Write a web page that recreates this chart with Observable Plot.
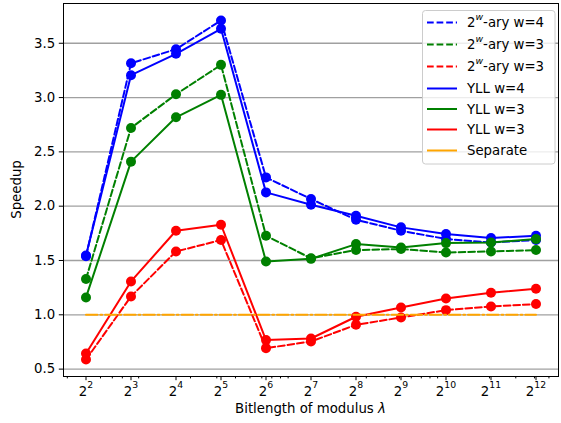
<!DOCTYPE html>
<html><head><meta charset="utf-8">
<script src="https://cdn.jsdelivr.net/npm/d3@7"></script>
<script src="https://cdn.jsdelivr.net/npm/@observablehq/plot@0.6"></script>
<style>
body{margin:0;background:#fff}
svg{font-family:"DejaVu Sans",sans-serif}
</style>
</head><body><div id="chart"></div>
<script>
// exponents k of lambda = 2^k
const exponents = [2, 3, 4, 5, 6, 7, 8, 9, 10, 11, 12];
const aryW4  = [1.54, 3.316, 3.445, 3.71, 2.265, 2.066, 1.875, 1.774, 1.698, 1.666, 1.688];
const aryW3g = [1.329, 2.72, 3.03, 3.301, 1.728, 1.52, 1.596, 1.605, 1.574, 1.583, 1.596];
const aryW3r = [0.588, 1.169, 1.583, 1.688, 0.693, 0.754, 0.908, 0.975, 1.043, 1.077, 1.099];
const yllW4  = [1.545, 3.206, 3.403, 3.633, 2.127, 2.014, 1.912, 1.805, 1.744, 1.707, 1.728];
const yllW3g = [1.16, 2.41, 2.818, 3.025, 1.491, 1.515, 1.651, 1.62, 1.66, 1.666, 1.697];
const yllW3r = [0.643, 1.307, 1.774, 1.829, 0.767, 0.782, 0.982, 1.067, 1.15, 1.203, 1.24];
const separate = [1, 1, 1, 1, 1, 1, 1, 1, 1, 1, 1];
const seriesNames = ["2^w-ary w=4", "2^w-ary w=3", "2^w-ary w=3", "YLL w=4", "YLL w=3", "YLL w=3", "Separate"];
const seriesValues = [aryW4, aryW3g, aryW3r, yllW4, yllW3g, yllW3r, separate];
const yTicks = [0.5, 1.0, 1.5, 2.0, 2.5, 3.0, 3.5];
const xMinorTicks = [3, 5, 6, 7, 9, 20, 30, 40, 50, 60, 70, 80, 90, 200, 300, 400, 500, 600, 700, 800, 900, 2000, 3000, 4000, 5000];

// styles
const FS = 13.3;
const colors = ["blue", "green", "red", "blue", "green", "red", "orange"];
const dashes = ["6.7,2.9", "6.7,2.9", "6.7,2.9", null, null, null, "11.5,2.9,1.8,2.9"];
const markers = [true, true, true, true, true, true, false];

const rows = [];
seriesValues.forEach((vals, s) => vals.forEach((v, i) => rows.push({s, x: 2 ** exponents[i], y: v})));

const marks = [Plot.gridY(yTicks, {stroke: "#a0a0a0", strokeOpacity: 1, strokeWidth: 1.3})];
seriesNames.forEach((name, s) => {
  const data = rows.filter(d => d.s === s);
  marks.push(Plot.line(data, {x: "x", y: "y", stroke: colors[s], strokeWidth: 2, strokeDasharray: dashes[s] || undefined}));
  if (markers[s]) marks.push(Plot.dot(data, {x: "x", y: "y", r: 5, fill: colors[s], stroke: "none"}));
});
marks.push(
  Plot.frame({stroke: "black", strokeWidth: 1}),
  Plot.axisY({ticks: yTicks, tickFormat: d3.format(".1f"), tickSize: 4.2, tickPadding: 4.2, label: null, fontSize: FS}),
  Plot.axisX({ticks: exponents.map(e => 2 ** e), tickFormat: d => "2^" + Math.round(Math.log2(d)), tickSize: 4.2, tickPadding: 5.4, label: null, fontSize: FS}),
  Plot.axisX({ticks: xMinorTicks, tickFormat: () => "", tickSize: 2.4, label: null})
);

const chart = Plot.plot({
  width: 561, height: 423,
  marginLeft: 63, marginRight: 3, marginTop: 3, marginBottom: 47,
  style: {fontFamily: "DejaVu Sans", fontSize: FS + "px", color: "black", background: "white"},
  x: {type: "log", base: 2, domain: [2 ** 1.5, 2 ** 12.5]},
  y: {domain: [0.432, 3.866]},
  marks
});
document.getElementById("chart").appendChild(chart);

const svg = d3.select(chart);
svg.selectAll("text").each(function() {
  const m = /^2\^(\d+)$/.exec(this.textContent);
  if (!m) return;
  const t = d3.select(this);
  t.text("");
  t.append("tspan").text("2");
  t.append("tspan").attr("dy", -8).attr("font-size", FS * 0.7).text(m[1]);
});

// axis labels
svg.append("text").attr("x", 310.5).attr("y", 413).attr("text-anchor", "middle")
  .attr("font-size", FS).attr("fill", "black")
  .call(t => { t.append("tspan").text("Bitlength of modulus "); t.append("tspan").attr("font-style", "italic").text("λ"); });
svg.append("text").attr("transform", "translate(21,189.5) rotate(-90)").attr("text-anchor", "middle")
  .attr("font-size", FS).attr("fill", "black").text("Speedup");

// legend
const lg = svg.append("g");
lg.append("rect").attr("x", 422.5).attr("y", 10.5).attr("width", 132.5).attr("height", 153.5)
  .attr("rx", 3).attr("fill", "white").attr("fill-opacity", 0.8).attr("stroke", "#cccccc").attr("stroke-width", 1);
const rowY = [22.5, 44.5, 66.5, 88.5, 109, 129.5, 150.5];
seriesNames.forEach((name, s) => {
  const y = rowY[s];
  lg.append("line").attr("x1", 427).attr("x2", 457).attr("y1", y).attr("y2", y)
    .attr("stroke", colors[s]).attr("stroke-width", 2).attr("stroke-dasharray", dashes[s] && s < 3 ? "6.7,2.9" : null);
  const t = lg.append("text").attr("x", 467).attr("y", y + 4.8).attr("font-size", FS)
    .attr("text-anchor", "start").attr("fill", "black");
  const m = /^2\^w(.*)$/.exec(name);
  if (m) {
    t.append("tspan").text("2");
    t.append("tspan").attr("dy", -7).attr("font-size", FS * 0.7).attr("font-style", "italic").text("w");
    t.append("tspan").attr("dy", 7).text(m[1]);
  } else t.text(name);
});
</script>
</body></html>
